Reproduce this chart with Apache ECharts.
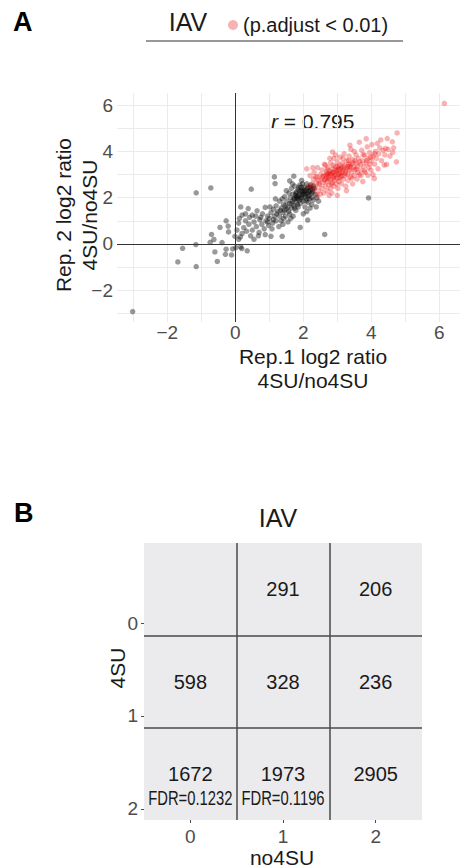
<!DOCTYPE html>
<html>
<head>
<meta charset="utf-8">
<script src="https://cdn.jsdelivr.net/npm/echarts@6/dist/echarts.min.js"></script>
<style>
  html, body { margin: 0; padding: 0; background: #fff; }
  #main { width: 460px; height: 867px; }
</style>
</head>
<body>
<div id="main"></div>
<script>
const FONT = '"Liberation Sans", Arial, Helvetica, sans-serif';

// panel A: rep.1 vs rep.2 log2 ratio 4SU/no4SU
const otherGenes = [
  [-3.02,-2.93],[-1.69,-0.78],[-1.15,-0.98],[-1.55,-0.19],[-1.16,-0.03],[-1.15,2.21],[-0.72,2.42],
  [-0.6,-0.35],[-0.53,-0.76],[-0.29,-0.45],[-0.11,-0.48],[-0.27,-0.23],[-0.08,-0.22],[-0.39,0.06],
  [-0.74,0.07],[-0.63,0.19],[-0.7,0.41],[-0.2,0.52],[-0.21,0.77],[-0.45,0.71],[-0.27,1.0],[-0.01,0.33],
  [0.16,-0.13],[0.02,-0.16],[0.35,-0.3],[0.19,-0.2],[0.47,2.37],[0.16,1.6],[0.38,1.53],[0.64,1.43],
  [0.88,1.58],[1.15,2.9],[1.17,2.61],[1.05,0.33],[1.38,0.33],[1.91,0.71],[2.13,1.03],[2.63,0.41],
  [3.92,1.99],[1.6,2.73],[1.72,2.93],
  [0.05,0.6],[0.1,0.9],[0.12,1.1],[0.2,0.45],[0.25,0.7],[0.3,1.0],[0.33,0.55],[0.4,0.85],[0.42,1.15],
  [0.5,0.6],[0.55,0.95],[0.6,1.2],[0.62,0.75],[0.7,0.5],[0.72,1.05],[0.78,0.85],[0.8,1.3],[0.85,0.65],
  [0.9,1.0],[0.95,1.2],[0.98,0.8],[0.15,0.3],[0.45,0.35],[0.68,0.35],[0.88,0.4],[0.3,1.3],[0.5,1.25],
  [0.2,1.25],[0.1,0.2],[0.55,0.2],
  [1.0,1.1],[1.05,1.35],[1.1,0.9],[1.12,1.5],[1.15,1.2],[1.2,1.0],[1.2,1.65],[1.25,1.4],[1.28,0.75],
  [1.3,1.2],[1.3,1.85],[1.35,1.55],[1.02,1.6],[1.08,0.65],[1.18,1.95],
  [1.35,1.0],[1.4,1.35],[1.42,1.7],[1.45,2.05],[1.48,1.2],[1.5,1.5],[1.52,1.85],[1.55,0.95],[1.55,1.6],
  [1.58,2.2],[1.6,1.3],[1.6,1.75],[1.4,0.85],[1.45,1.45],[1.5,2.3],[1.38,1.95],
  [1.62,2.0],[1.65,1.55],[1.65,2.4],[1.68,1.85],[1.7,1.2],[1.7,2.15],[1.72,1.65],[1.75,1.95],[1.75,2.5],
  [1.78,1.45],[1.8,1.8],[1.8,2.25],[1.82,2.05],[1.85,1.6],[1.85,2.35],[1.88,1.9],[1.9,2.15],[1.9,2.55],
  [1.63,1.1],[1.68,2.6],[1.77,2.1],[1.83,1.7],[1.87,2.45],
  [1.92,1.75],[1.95,2.0],[1.95,2.3],[1.98,2.6],[2.0,1.85],[2.0,2.15],[2.02,2.45],[2.05,1.6],[2.05,2.05],
  [2.08,2.3],[2.1,2.6],[2.1,1.95],[2.12,2.2],[2.15,1.8],[2.15,2.45],[2.18,2.1],[2.2,2.3],[2.2,1.55],
  [2.22,2.55],[2.25,2.0],[2.28,2.25],[2.3,1.9],[2.32,2.4],[2.35,2.15],[2.1,1.4],[2.0,1.3],[1.95,2.75],
  [2.25,1.7],[2.4,2.0],[2.45,1.85],[2.38,1.6],
  [1.72,1.95],[1.78,2.2],[1.84,1.95],[1.9,2.3],[1.96,2.1],[2.02,2.35],[2.06,2.15],[2.12,2.4],[2.16,2.25],
  [2.2,2.45],[2.24,2.2],[2.3,2.5],[1.94,2.45],[2.08,1.85],[1.8,2.0],[1.98,2.25],
  [1.22,1.3],[1.33,1.45],[1.47,1.65],[1.57,1.4],[1.66,1.75],[1.74,1.55],[1.86,2.1],[1.93,1.95],
  [2.04,2.25],[2.14,2.05],[2.26,2.35],[2.18,1.95],[1.42,1.1],[1.12,1.05],[0.95,0.95],[0.75,1.15]
];
const sigGenes = [
  [2.1,3.25],[2.2,2.95],[2.25,2.6],[2.3,2.8],[2.32,3.1],[2.35,2.45],[2.38,2.65],[2.4,2.9],[2.42,3.3],
  [2.45,2.3],[2.45,2.75],[2.48,2.55],[2.5,3.0],[2.5,2.15],[2.52,2.8],[2.55,2.4],[2.55,3.2],[2.58,2.65],
  [2.6,2.95],[2.6,2.2],[2.62,3.45],[2.65,2.5],[2.65,2.8],[2.68,3.1],[2.3,2.35],[2.4,2.1],[2.15,2.5],[2.28,3.3],
  [2.7,2.3],[2.7,2.7],[2.72,3.0],[2.72,3.3],[2.75,2.55],[2.75,2.9],[2.78,3.15],[2.8,2.4],[2.8,2.8],[2.8,3.5],
  [2.82,3.05],[2.85,2.65],[2.85,3.25],[2.86,3.98],[2.88,2.9],[2.9,2.5],[2.9,3.1],[2.9,3.7],[2.92,2.75],
  [2.95,3.0],[2.95,3.35],[2.98,2.6],[3.0,2.85],[3.0,3.2],[3.0,3.55],[3.02,2.4],[3.05,3.05],[3.05,2.7],
  [3.08,3.4],[3.1,2.9],[3.1,3.25],[2.65,3.41],[2.78,3.7],[2.84,2.2],[3.0,2.1],[2.95,3.85],[3.08,3.75],
  [2.76,2.1],[2.88,3.4],[3.03,3.0],
  [3.12,2.6],[3.15,3.1],[3.15,3.5],[3.18,2.8],[3.2,3.3],[3.2,3.9],[3.22,2.95],[3.25,3.15],[3.25,2.5],
  [3.28,3.6],[3.3,3.0],[3.3,3.35],[3.32,2.75],[3.35,3.2],[3.35,3.8],[3.37,4.27],[3.38,2.9],[3.4,3.45],
  [3.42,3.1],[3.45,2.6],[3.45,3.65],[3.48,3.3],[3.5,2.95],[3.5,4.0],[3.52,3.2],[3.55,3.5],[3.58,2.8],
  [3.6,3.35],[3.6,3.1],[3.17,3.7],[3.4,4.1],[3.27,2.3],[3.55,3.85],[3.43,2.85],[3.12,3.3],[3.33,3.6],
  [3.62,3.7],[3.65,3.0],[3.68,3.45],[3.7,3.2],[3.72,4.05],[3.75,2.7],[3.75,3.6],[3.78,3.35],[3.8,3.85],
  [3.82,3.1],[3.85,3.5],[3.88,4.2],[3.9,2.97],[3.9,3.7],[3.92,3.3],[3.95,3.95],[3.99,3.19],[4.0,3.6],
  [4.02,4.3],[4.05,3.8],[4.09,2.83],[4.1,3.45],[4.12,4.0],[4.15,3.7],[4.18,4.35],[4.2,3.25],[3.65,4.4],
  [3.7,2.95],[3.85,4.55],[4.05,3.0],[3.8,3.15],[3.96,3.45],
  [4.22,3.9],[4.25,4.15],[4.3,3.6],[4.35,4.05],[4.38,3.41],[4.42,4.13],[4.45,3.44],[4.47,4.56],[4.5,4.09],
  [4.55,3.8],[4.62,4.42],[4.63,3.96],[4.66,4.16],[4.74,3.55],[4.76,4.8],[4.28,4.5],[4.4,3.85],[6.15,6.08],
  [2.62,2.75],[2.68,2.9],[2.74,2.8],[2.8,3.0],[2.86,3.1],[2.92,2.95],[2.98,3.15],[3.04,3.25],[3.1,3.05],
  [3.16,3.2],[3.22,3.4],[3.28,3.25],[3.34,3.45],[3.4,3.3],[3.46,3.5],[2.7,3.2],[2.94,3.2],[3.06,2.85],
  [2.56,2.9],[2.83,2.6],
  [2.66,3.0],[2.76,3.05],[2.9,2.85],[3.02,3.35],[3.14,2.95],[3.24,3.05],[3.36,3.35],[3.52,3.6],
  [3.66,3.55],[3.76,3.85],[3.98,3.75],[4.1,3.9],[2.46,2.6],[2.36,2.9],[3.56,3.25],[3.86,3.6]
];
const corrR = '0.795';
const gridTicks = [-3, -2, -1, 0, 1, 2, 3, 4, 5, 6];
const tickLabels = [-2, 0, 2, 4, 6];

// panel B: gene counts per 4SU / no4SU class
const no4suCats = ['0', '1', '2'];
const su4Cats = ['0', '1', '2'];
const cellCounts = [
  [null, 291, 206],
  [598, 328, 236],
  [1672, 1973, 2905]
];
const cellFdr = [
  [null, null, null],
  [null, null, null],
  ['0.1232', '0.1196', null]
];
const su4Ticks = [0, 1, 2];

const myChart = echarts.init(document.getElementById('main'), null, { renderer: 'svg' });

const minus = v => (v < 0 ? '\u2212' + (-v) : String(v));

const heatData = [];
const fdrData = [];
const fdrText = [];
cellCounts.forEach((row, r) => {
  row.forEach((n, c) => {
    if (n !== null) heatData.push([c, r, n]);
    if (cellFdr[r][c]) {
      fdrData.push([c, r]);
      fdrText.push('FDR=' + cellFdr[r][c]);
    }
  });
});

const tickText = { color: '#4d4d4d', fontSize: 19, fontFamily: FONT };

const option = {
  animation: false,
  backgroundColor: '#fff',
  textStyle: { fontFamily: FONT },
  legend: {
    data: ['(p.adjust < 0.01)'],
    left: 223,
    top: 10,
    icon: 'circle',
    itemWidth: 10,
    itemHeight: 10,
    selectedMode: false,
    textStyle: { fontSize: 20, color: '#1a1a1a', fontFamily: FONT }
  },
  grid: [
    { left: 117, top: 93, right: -8, height: 229 },
    { left: 144, top: 543, width: 278, height: 277, show: true, backgroundColor: '#ebebed', borderWidth: 0 },
    { left: 144, top: 543, width: 278, height: 277 }
  ],
  xAxis: [
    {
      gridIndex: 0, type: 'value', min: -3.48, max: 6.61,
      axisLine: { show: false },
      axisTick: { show: false, customValues: gridTicks },
      axisLabel: Object.assign({ customValues: tickLabels, margin: 1, formatter: minus }, tickText),
      splitLine: { lineStyle: { color: '#ebebeb', width: 1 } }
    },
    {
      gridIndex: 1, type: 'category', data: no4suCats,
      axisLine: { show: false },
      axisTick: { show: true, alignWithLabel: true, length: 3, lineStyle: { color: '#4d4d4d' } },
      axisLabel: Object.assign({ margin: 7 }, tickText),
      splitLine: { show: true, showMinLine: false, showMaxLine: false, lineStyle: { color: '#4a4a4a', width: 1.5 } }
    },
    { gridIndex: 2, type: 'value', show: false, min: 0, max: 1 }
  ],
  yAxis: [
    {
      gridIndex: 0, type: 'value', min: -3.38, max: 6.53,
      axisLine: { show: false },
      axisTick: { show: false, customValues: gridTicks },
      axisLabel: Object.assign({ customValues: tickLabels, margin: 4, formatter: minus }, tickText),
      splitLine: { lineStyle: { color: '#ebebeb', width: 1 } }
    },
    {
      gridIndex: 1, type: 'category', data: su4Cats, inverse: true,
      axisLine: { show: false },
      axisTick: { show: false },
      axisLabel: { show: false },
      splitLine: { show: true, showMinLine: false, showMaxLine: false, lineStyle: { color: '#4a4a4a', width: 1.5 } }
    },
    {
      gridIndex: 2, type: 'value', min: -0.862, max: 2.12, inverse: true,
      axisLine: { show: false },
      axisTick: { show: true, customValues: su4Ticks, length: 3, lineStyle: { color: '#4d4d4d' } },
      axisLabel: Object.assign({ customValues: su4Ticks, margin: 6 }, tickText),
      splitLine: { show: false }
    }
  ],
  series: [
    {
      name: 'other',
      type: 'scatter',
      xAxisIndex: 0, yAxisIndex: 0,
      data: otherGenes,
      symbolSize: 5.5,
      itemStyle: { color: 'rgba(0,0,0,0.5)' },
      markLine: {
        silent: true,
        symbol: ['none', 'none'],
        label: { show: false },
        lineStyle: { color: '#333', width: 1, type: 'solid' },
        data: [{ xAxis: 0 }, { yAxis: 0 }]
      },
      z: 3
    },
    {
      name: '(p.adjust < 0.01)',
      type: 'scatter',
      xAxisIndex: 0, yAxisIndex: 0,
      data: sigGenes,
      symbolSize: 5.5,
      itemStyle: { color: 'rgba(236,0,0,0.38)' },
      z: 4
    },
    {
      name: 'counts',
      type: 'heatmap',
      xAxisIndex: 1, yAxisIndex: 1,
      data: heatData,
      itemStyle: { color: 'rgba(0,0,0,0)' },
      label: { show: true, color: '#1a1a1a', fontSize: 20, fontFamily: FONT, formatter: p => String(p.value[2]) }
    },
    {
      name: 'fdr',
      type: 'custom',
      xAxisIndex: 1, yAxisIndex: 1,
      data: fdrData,
      renderItem: (params, api) => {
        const pt = api.coord([api.value(0), api.value(1)]);
        return {
          type: 'text',
          x: pt[0],
          y: pt[1] + 24,
          scaleX: 0.74,
          style: {
            text: fdrText[params.dataIndex], fontSize: 20, fontFamily: FONT, fill: '#1a1a1a',
            align: 'center', verticalAlign: 'middle'
          }
        };
      },
      z: 5
    }
  ],
  graphic: [
    { type: 'text', x: 13, y: 22, style: { text: 'A', fontSize: 27, fontWeight: 'bold', fontFamily: FONT, fill: '#000', verticalAlign: 'middle' } },
    { type: 'text', x: 188, y: 22, style: { text: 'IAV', fontSize: 25, fontFamily: FONT, fill: '#1a1a1a', align: 'center', verticalAlign: 'middle' } },
    { type: 'line', shape: { x1: 146, y1: 41, x2: 403, y2: 41 }, style: { stroke: '#333', lineWidth: 1 } },
    {
      type: 'text', x: 271, y: 121,
      style: {
        text: '{i|r} = ' + corrR, verticalAlign: 'middle', fill: '#1a1a1a', fontSize: 21, fontFamily: FONT,
        rich: { i: { fontStyle: 'italic', fontSize: 21, fontFamily: FONT, fill: '#1a1a1a' } }
      }
    },
    { type: 'text', x: 313, y: 356, style: { text: 'Rep.1 log2 ratio', fontSize: 21, lineHeight: 21, fontFamily: FONT, fill: '#1a1a1a', align: 'center', verticalAlign: 'middle' } },
    { type: 'text', x: 313, y: 380, style: { text: '4SU/no4SU', fontSize: 21, lineHeight: 21, fontFamily: FONT, fill: '#1a1a1a', align: 'center', verticalAlign: 'middle' } },
    { type: 'text', x: 76, y: 215, rotation: Math.PI / 2, style: { text: 'Rep. 2 log2 ratio\n4SU/no4SU', fontSize: 21, lineHeight: 26, fontFamily: FONT, fill: '#1a1a1a', align: 'center', verticalAlign: 'middle' } },
    { type: 'text', x: 14, y: 513, style: { text: 'B', fontSize: 27, fontWeight: 'bold', fontFamily: FONT, fill: '#000', verticalAlign: 'middle' } },
    { type: 'text', x: 278, y: 518, style: { text: 'IAV', fontSize: 25, fontFamily: FONT, fill: '#1a1a1a', align: 'center', verticalAlign: 'middle' } },
    { type: 'text', x: 282, y: 857, style: { text: 'no4SU', fontSize: 21, fontFamily: FONT, fill: '#1a1a1a', align: 'center', verticalAlign: 'middle' } },
    { type: 'text', x: 117, y: 668, rotation: Math.PI / 2, style: { text: '4SU', fontSize: 21, fontFamily: FONT, fill: '#1a1a1a', align: 'center', verticalAlign: 'middle' } }
  ]
};

option && myChart.setOption(option);
</script>
</body>
</html>
